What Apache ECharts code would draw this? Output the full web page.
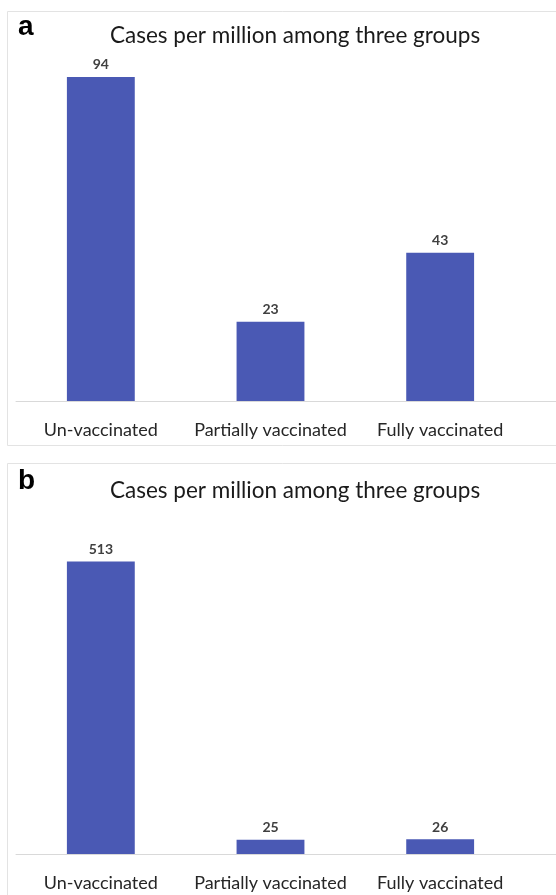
<!DOCTYPE html>
<html>
<head>
<meta charset="utf-8">
<style>
  html, body { margin: 0; padding: 0; background: #ffffff; }
  #chart { width: 556px; height: 895px; }
</style>
<script src="https://cdn.jsdelivr.net/npm/echarts@6/dist/echarts.min.js"></script>
</head>
<body>
<div id="chart"></div>
<script>
// Vaccination groups and cases per million in two periods
const categories = ['Un-vaccinated', 'Partially vaccinated', 'Fully vaccinated'];
const casesA = [94, 23, 43];
const casesB = [513, 25, 26];
const titleText = 'Cases per million among three groups';
const panelLetters = ['a', 'b'];

const barColor = '#4a59b4';
const textFont = 'Lato, "Open Sans", "Noto Sans", sans-serif';

const chart = echarts.init(document.getElementById('chart'), null, { renderer: 'canvas' });

function xAxisFor(gridIndex) {
  return {
    type: 'category',
    gridIndex: gridIndex,
    data: categories,
    axisLine: { show: true, lineStyle: { color: '#d9d9d9', width: 1 } },
    axisTick: { show: false },
    axisLabel: { interval: 0, color: '#262626', fontSize: 18, fontFamily: textFont, margin: 20 }
  };
}

function barSeries(idx, values) {
  return {
    type: 'bar',
    xAxisIndex: idx,
    yAxisIndex: idx,
    data: values,
    barWidth: '40%',
    itemStyle: { color: barColor },
    label: {
      show: true,
      position: 'top',
      distance: 5,
      color: '#404040',
      fontSize: 14,
      fontWeight: 'bold',
      fontFamily: textFont
    }
  };
}

const titleStyle = { fontSize: 22.5, fontWeight: 'normal', color: '#1a1a1a', fontFamily: textFont };

const option = {
  animation: false,
  backgroundColor: '#ffffff',
  title: [
    { text: titleText, left: 105, top: 19, textStyle: titleStyle },
    { text: titleText, left: 105, top: 474, textStyle: titleStyle }
  ],
  grid: [
    { left: 16, top: 56.3, width: 509, height: 344.7 },
    { left: 16, top: 512, width: 509, height: 342 }
  ],
  xAxis: [xAxisFor(0), xAxisFor(1)],
  yAxis: [
    { type: 'value', gridIndex: 0, min: 0, max: 100, show: false, splitLine: { show: false } },
    { type: 'value', gridIndex: 1, min: 0, max: 600, show: false, splitLine: { show: false } }
  ],
  series: [barSeries(0, casesA), barSeries(1, casesB)],
  graphic: [
    // panel frames
    { type: 'rect', shape: { x: 7.5, y: 11.5, width: 600, height: 434 },
      style: { fill: 'none', stroke: '#e3e3e3', lineWidth: 1 }, z: -1 },
    { type: 'rect', shape: { x: 7.5, y: 463.5, width: 600, height: 500 },
      style: { fill: 'none', stroke: '#e3e3e3', lineWidth: 1 }, z: -1 },
    // baseline continues to the right edge of each plot area
    { type: 'line', shape: { x1: 525, y1: 401.5, x2: 556, y2: 401.5 },
      style: { stroke: '#d9d9d9', lineWidth: 1 } },
    { type: 'line', shape: { x1: 525, y1: 854.5, x2: 556, y2: 854.5 },
      style: { stroke: '#d9d9d9', lineWidth: 1 } },
    // panel letters
    { type: 'text', left: 18, top: 13,
      style: { text: panelLetters[0], font: 'bold 28px "Liberation Sans", Arial, sans-serif', fill: '#000000' } },
    { type: 'text', left: 18, top: 467,
      style: { text: panelLetters[1], font: 'bold 28px "Liberation Sans", Arial, sans-serif', fill: '#000000' } }
  ]
};

chart.setOption(option);
</script>
</body>
</html>
